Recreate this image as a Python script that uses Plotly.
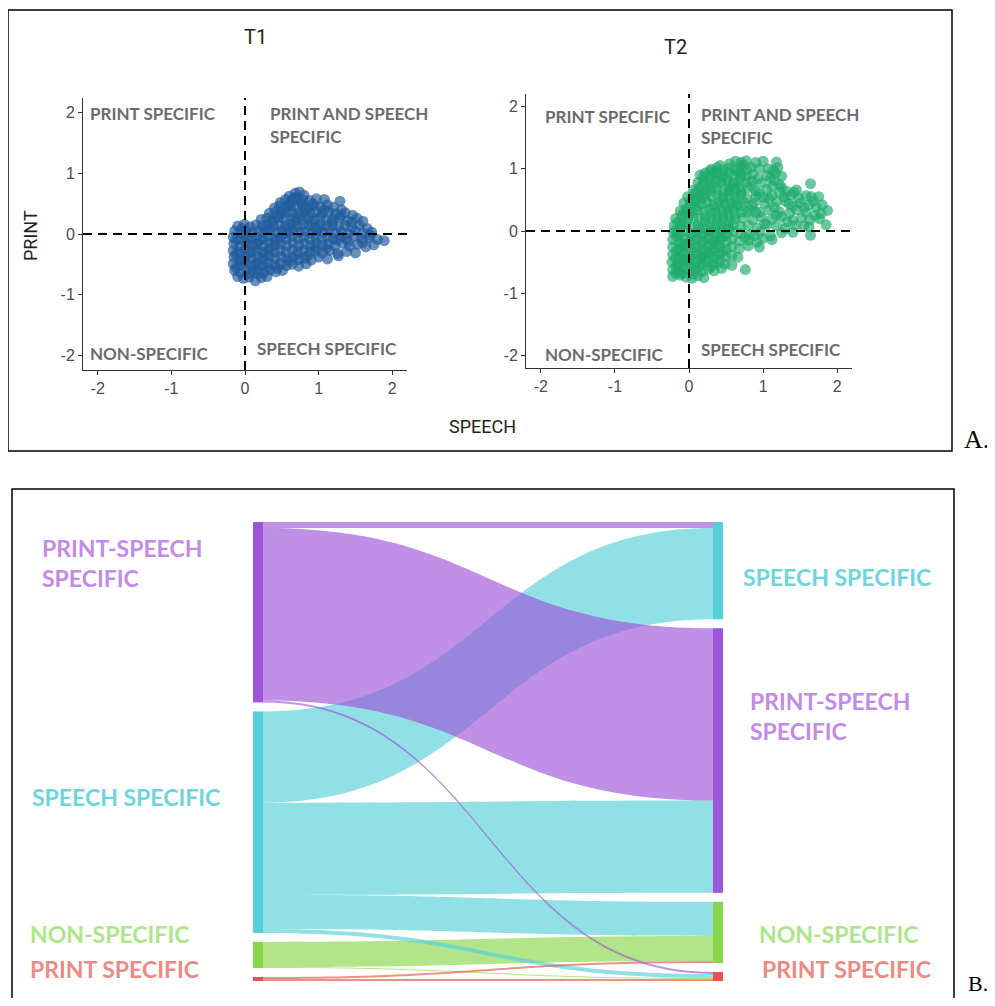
import plotly.graph_objects as go

# ---------------- data ----------------
tick_vals = [-2, -1, 0, 1, 2]
tick_text = ["-2", "-1", "0", "1", "2"]

t1_points = [
    (0.60, 0.62), (0.68, 0.67), (0.74, 0.69), (0.80, 0.64),
    (0.48, 0.52), (0.55, 0.57), (0.63, 0.55), (0.71, 0.58), (0.79, 0.56), (0.88, 0.55), (0.97, 0.58), (1.08, 0.57), (1.29, 0.54),
    (0.40, 0.43), (0.47, 0.46), (0.55, 0.44), (0.62, 0.47), (0.70, 0.45), (0.78, 0.46), (0.86, 0.43), (0.94, 0.47), (1.02, 0.45), (1.12, 0.48), (1.20, 0.44), (1.31, 0.40),
    (0.33, 0.34), (0.41, 0.36), (0.49, 0.33), (0.57, 0.37), (0.64, 0.35), (0.72, 0.34), (0.81, 0.37), (0.89, 0.33), (0.97, 0.36), (1.05, 0.34), (1.14, 0.37), (1.23, 0.33), (1.36, 0.35), (1.46, 0.31),
    (0.22, 0.24), (0.30, 0.26), (0.38, 0.23), (0.46, 0.27), (0.54, 0.25), (0.62, 0.24), (0.70, 0.27), (0.78, 0.23), (0.86, 0.26), (0.94, 0.24), (1.02, 0.27), (1.10, 0.23), (1.19, 0.25), (1.28, 0.27), (1.39, 0.22), (1.52, 0.26), (1.60, 0.21),
    (-0.10, 0.13), (-0.01, 0.16), (0.07, 0.12), (0.15, 0.15), (0.23, 0.13), (0.31, 0.16), (0.39, 0.12), (0.47, 0.15), (0.55, 0.13), (0.63, 0.16), (0.71, 0.12), (0.79, 0.15), (0.87, 0.14), (0.95, 0.11), (1.03, 0.16), (1.11, 0.13), (1.19, 0.15), (1.27, 0.12), (1.36, 0.14), (1.45, 0.11), (1.55, 0.15), (1.66, 0.09),
    (-0.14, 0.05), (-0.06, 0.02), (0.02, 0.06), (0.10, 0.03), (0.18, 0.05), (0.26, 0.02), (0.34, 0.06), (0.42, 0.03), (0.50, 0.05), (0.58, 0.02), (0.66, 0.06), (0.74, 0.03), (0.82, 0.05), (0.90, 0.02), (0.98, 0.06), (1.06, 0.03), (1.14, 0.05), (1.22, 0.02), (1.31, 0.04), (1.40, 0.01), (1.50, 0.05), (1.60, 0.02), (1.72, 0.03),
    (-0.16, -0.05), (-0.08, -0.08), (0.00, -0.04), (0.08, -0.07), (0.16, -0.05), (0.24, -0.08), (0.32, -0.04), (0.40, -0.07), (0.48, -0.05), (0.56, -0.08), (0.64, -0.04), (0.72, -0.07), (0.80, -0.05), (0.88, -0.08), (0.96, -0.04), (1.04, -0.07), (1.12, -0.05), (1.20, -0.08), (1.29, -0.05), (1.38, -0.07), (1.48, -0.04), (1.58, -0.08), (1.69, -0.06), (1.80, -0.09), (1.89, -0.11),
    (-0.15, -0.16), (-0.07, -0.19), (0.01, -0.15), (0.09, -0.18), (0.17, -0.16), (0.25, -0.19), (0.33, -0.15), (0.41, -0.18), (0.49, -0.16), (0.57, -0.19), (0.65, -0.15), (0.73, -0.18), (0.81, -0.16), (0.89, -0.19), (0.97, -0.15), (1.05, -0.18), (1.13, -0.16), (1.22, -0.19), (1.32, -0.15), (1.42, -0.20), (1.53, -0.17), (1.64, -0.21), (1.75, -0.18),
    (-0.16, -0.27), (-0.08, -0.30), (0.00, -0.26), (0.08, -0.29), (0.16, -0.27), (0.24, -0.30), (0.32, -0.26), (0.40, -0.29), (0.48, -0.27), (0.56, -0.30), (0.64, -0.26), (0.72, -0.29), (0.80, -0.27), (0.88, -0.30), (0.96, -0.28), (1.05, -0.31), (1.15, -0.27), (1.26, -0.32), (1.38, -0.29), (1.50, -0.31),
    (-0.15, -0.38), (-0.07, -0.41), (0.01, -0.37), (0.09, -0.40), (0.17, -0.38), (0.25, -0.41), (0.33, -0.37), (0.41, -0.40), (0.49, -0.38), (0.57, -0.41), (0.65, -0.39), (0.73, -0.42), (0.81, -0.40), (0.90, -0.43), (1.00, -0.38), (1.12, -0.41), (1.27, -0.36),
    (-0.16, -0.49), (-0.08, -0.52), (0.00, -0.48), (0.08, -0.51), (0.16, -0.49), (0.24, -0.52), (0.32, -0.48), (0.40, -0.51), (0.48, -0.49), (0.56, -0.52), (0.64, -0.50), (0.73, -0.53), (0.83, -0.49),
    (-0.14, -0.60), (-0.06, -0.63), (0.02, -0.59), (0.10, -0.62), (0.18, -0.60), (0.26, -0.63), (0.34, -0.59), (0.42, -0.62), (0.51, -0.60),
    (-0.10, -0.70), (-0.02, -0.73), (0.06, -0.71), (0.14, -0.77), (0.22, -0.72), (0.30, -0.70),
    # interior points between the rows
    (0.05, -0.65), (0.12, -0.55), (0.20, -0.44), (0.28, -0.33), (0.36, -0.22), (0.44, -0.11), (0.52, 0.00), (0.60, 0.10),
    (0.68, 0.20), (0.76, 0.30), (0.84, 0.40), (0.92, 0.50), (-0.12, -0.55), (-0.04, -0.44), (0.04, -0.33), (0.12, -0.22),
    (0.20, -0.11), (0.28, 0.09), (0.36, 0.20), (0.44, 0.30), (0.52, 0.40), (0.60, 0.50), (0.68, 0.60), (0.76, 0.52),
    (0.18, -0.66), (0.30, -0.55), (0.44, -0.56), (0.60, -0.45), (0.70, -0.34), (0.85, -0.36), (0.95, -0.22), (1.10, -0.24),
    (1.25, -0.10), (1.40, -0.12), (1.60, -0.14), (1.70, -0.02), (1.00, 0.10), (1.18, 0.20), (1.30, 0.30), (1.08, 0.40),
    (0.90, 0.20), (1.45, 0.20), (-0.12, -0.10), (-0.04, 0.09), (-0.12, -0.33), (0.04, -0.10),
]

t2_points = [
    (0.55, 1.08), (0.63, 1.12), (0.70, 1.10), (0.77, 1.13), (1.00, 1.12), (1.18, 1.11),
    (0.30, 0.99), (0.38, 1.02), (0.46, 0.98), (0.54, 1.01), (0.62, 0.99), (0.70, 1.03), (0.78, 0.98), (1.07, 1.00), (1.14, 0.97), (1.20, 1.02),
    (0.15, 0.90), (0.22, 0.93), (0.30, 0.89), (0.38, 0.92), (0.46, 0.90), (0.54, 0.93), (0.62, 0.89), (0.70, 0.92), (0.78, 0.88), (0.86, 0.91), (1.05, 0.89), (1.17, 0.93),
    (0.12, 0.78), (0.20, 0.81), (0.28, 0.77), (0.36, 0.80), (0.44, 0.78), (0.52, 0.81), (0.60, 0.77), (0.68, 0.80), (0.76, 0.78), (0.85, 0.80), (0.98, 0.77), (1.15, 0.81), (1.22, 0.75), (1.64, 0.76),
    (0.06, 0.66), (0.14, 0.69), (0.22, 0.65), (0.30, 0.68), (0.38, 0.66), (0.46, 0.69), (0.54, 0.65), (0.62, 0.68), (0.70, 0.66), (0.79, 0.69), (0.90, 0.64), (1.05, 0.67), (1.25, 0.70), (1.32, 0.64), (1.42, 0.62),
    (-0.02, 0.55), (0.06, 0.58), (0.14, 0.54), (0.22, 0.57), (0.30, 0.55), (0.38, 0.58), (0.46, 0.54), (0.54, 0.57), (0.62, 0.55), (0.70, 0.58), (0.78, 0.52), (0.90, 0.56), (1.00, 0.54), (1.12, 0.57), (1.28, 0.55), (1.38, 0.58), (1.48, 0.53), (1.58, 0.57), (1.65, 0.55),
    (-0.07, 0.45), (0.01, 0.42), (0.09, 0.46), (0.17, 0.43), (0.25, 0.45), (0.33, 0.42), (0.41, 0.46), (0.49, 0.43), (0.57, 0.45), (0.65, 0.42), (0.74, 0.46), (0.85, 0.41), (1.02, 0.44), (1.18, 0.47), (1.35, 0.43), (1.50, 0.45), (1.62, 0.42), (1.72, 0.38),
    (-0.12, 0.32), (-0.04, 0.35), (0.04, 0.31), (0.12, 0.34), (0.20, 0.32), (0.28, 0.35), (0.36, 0.31), (0.44, 0.34), (0.52, 0.32), (0.60, 0.35), (0.70, 0.30), (0.82, 0.33), (0.95, 0.30), (1.08, 0.34), (1.22, 0.31), (1.36, 0.29), (1.45, 0.34), (1.58, 0.30), (1.78, 0.28), (1.87, 0.33),
    (-0.18, 0.20), (-0.10, 0.23), (-0.02, 0.19), (0.06, 0.22), (0.14, 0.20), (0.22, 0.23), (0.30, 0.19), (0.38, 0.22), (0.46, 0.20), (0.54, 0.23), (0.62, 0.19), (0.72, 0.21), (0.86, 0.18), (0.98, 0.22), (1.12, 0.19), (1.25, 0.23), (1.40, 0.17), (1.52, 0.21), (1.63, 0.18), (1.76, 0.20),
    (-0.20, 0.09), (-0.12, 0.06), (-0.04, 0.10), (0.04, 0.07), (0.12, 0.09), (0.20, 0.06), (0.28, 0.10), (0.36, 0.07), (0.44, 0.09), (0.52, 0.06), (0.60, 0.10), (0.70, 0.07), (0.80, 0.09), (0.92, 0.05), (1.05, 0.10), (1.18, 0.08), (1.30, 0.04), (1.44, 0.09), (1.62, 0.07), (1.85, 0.10),
    (-0.21, -0.02), (-0.13, -0.05), (-0.05, -0.01), (0.03, -0.04), (0.11, -0.02), (0.19, -0.05), (0.27, -0.01), (0.35, -0.04), (0.43, -0.02), (0.51, -0.05), (0.60, -0.01), (0.70, -0.04), (0.82, -0.06), (0.96, -0.02), (1.10, -0.08), (1.25, -0.03), (1.64, -0.07),
    (-0.22, -0.14), (-0.14, -0.17), (-0.06, -0.13), (0.02, -0.16), (0.10, -0.14), (0.18, -0.17), (0.26, -0.13), (0.34, -0.16), (0.42, -0.14), (0.50, -0.17), (0.58, -0.13), (0.68, -0.16), (0.80, -0.15), (0.92, -0.18), (1.12, -0.14),
    (-0.22, -0.26), (-0.14, -0.29), (-0.06, -0.25), (0.02, -0.28), (0.10, -0.26), (0.18, -0.29), (0.26, -0.25), (0.34, -0.28), (0.42, -0.26), (0.50, -0.29), (0.58, -0.25), (0.68, -0.28), (0.80, -0.24), (0.95, -0.26),
    (-0.22, -0.38), (-0.14, -0.41), (-0.06, -0.37), (0.02, -0.40), (0.10, -0.38), (0.18, -0.41), (0.26, -0.37), (0.34, -0.40), (0.42, -0.38), (0.50, -0.41), (0.58, -0.39), (0.66, -0.42),
    (-0.23, -0.50), (-0.15, -0.53), (-0.07, -0.49), (0.01, -0.52), (0.09, -0.50), (0.17, -0.53), (0.25, -0.49), (0.33, -0.52), (0.41, -0.50), (0.49, -0.53), (0.58, -0.55),
    (-0.22, -0.62), (-0.14, -0.65), (-0.06, -0.61), (0.02, -0.64), (0.10, -0.62), (0.18, -0.65), (0.26, -0.61), (0.34, -0.64), (0.44, -0.60), (0.76, -0.62),
    (-0.22, -0.73), (-0.12, -0.71), (-0.04, -0.74), (0.04, -0.76), (0.12, -0.72), (0.20, -0.75),
    # dense left band
    (0.02, 0.48), (0.10, 0.62), (0.18, 0.74), (0.26, 0.85), (0.34, 0.95), (0.42, 1.05), (0.50, 0.86), (0.58, 0.72),
    (-0.15, 0.14), (-0.08, 0.28), (0.00, 0.26), (0.08, 0.38), (0.16, 0.50), (0.24, 0.61), (0.32, 0.73), (0.40, 0.84),
    (-0.17, -0.08), (-0.09, -0.20), (-0.17, -0.32), (-0.09, -0.44), (-0.17, -0.56), (-0.09, -0.68), (0.06, -0.57), (0.14, -0.45),
    (0.22, -0.33), (0.30, -0.21), (0.38, -0.09), (0.46, 0.03), (0.54, 0.15), (0.30, -0.57), (0.38, -0.45), (0.46, -0.33),
    (-0.18, -0.68), (-0.10, -0.58), (-0.02, -0.46), (0.06, -0.34), (0.14, -0.22), (0.22, -0.10), (0.30, 0.02), (0.38, 0.14),
    (0.46, 0.26), (0.54, 0.38), (0.62, 0.50), (0.70, 0.62), (-0.18, -0.44), (-0.10, -0.32), (-0.02, -0.20), (0.06, -0.08),
    (0.14, 0.04), (0.22, 0.16), (0.30, 0.28), (0.38, 0.40), (0.46, 0.52), (0.54, 0.64), (0.62, 0.76), (0.70, 0.88),
    (0.06, -0.69), (0.14, -0.57), (0.22, -0.45), (0.30, -0.33), (0.38, -0.21), (0.46, -0.09), (0.54, 0.03), (0.62, 0.27),
    (0.70, 0.40), (0.78, 0.30), (-0.18, 0.00), (-0.10, 0.12), (-0.02, 0.30), (0.06, 0.50), (0.12, 0.60), (0.20, 0.88), (0.28, 0.96),
    # right lobe
    (0.88, 0.45), (0.95, 0.60), (1.08, 0.52), (1.15, 0.38), (1.22, 0.62), (1.30, 0.48), (1.40, 0.40), (1.45, 0.66),
    (1.55, 0.38), (1.68, 0.48), (1.75, 0.55), (1.80, 0.42), (1.70, 0.25), (1.55, 0.08), (1.40, -0.02), (1.32, 0.15),
    (1.18, 0.25), (1.02, 0.12), (0.90, 0.30), (0.88, -0.08), (1.00, -0.12), (0.75, -0.10), (0.85, 0.72), (0.93, 0.84),
    (0.95, 1.00), (1.10, 0.85), (1.25, 0.88), (1.12, 0.72), (0.66, 0.95), (0.74, 1.06), (0.84, 1.02), (0.90, 1.10),
]

# Sankey (T1 profile -> T2 profile); links listed in drawing order
left_nodes = ["PRINT-SPEECH SPECIFIC", "SPEECH SPECIFIC", "NON-SPECIFIC", "PRINT SPECIFIC"]
right_nodes = ["SPEECH SPECIFIC", "PRINT-SPEECH SPECIFIC", "NON-SPECIFIC", "PRINT SPECIFIC"]
flow_source = [2, 2, 1, 1, 1, 1, 3, 3, 0, 0, 0]
flow_target = [6, 7, 4, 5, 6, 7, 6, 7, 4, 5, 7]
flow_value = [25, 1, 91, 92, 34, 4, 2, 2, 6, 172, 2]

# ---------------- styling ----------------
# page has an 8px body margin; figure placed at (8, 8)
OFF = 8
W, H = 995 - OFF, 990
def fx(px):
    return (px - OFF) / W
def fy(py):
    return 1 - (py - OFF) / H

cat_node = {"PRINT-SPEECH SPECIFIC": "#9c55d9", "SPEECH SPECIFIC": "#56cfd8",
            "NON-SPECIFIC": "#89d64a", "PRINT SPECIFIC": "#e0564c"}
cat_rgb = {"PRINT-SPEECH SPECIFIC": (157, 85, 217), "SPEECH SPECIFIC": (86, 207, 216),
           "NON-SPECIFIC": (137, 214, 74), "PRINT SPECIFIC": (224, 86, 76)}
cat_label = {"PRINT-SPEECH SPECIFIC": "#c48ae8", "SPEECH SPECIFIC": "#6ed5de",
             "NON-SPECIFIC": "#aee58c", "PRINT SPECIFIC": "#ec8a83"}

fig = go.Figure()

# scatter panels
fig.add_trace(go.Scatter(
    x=[p[0] for p in t1_points], y=[p[1] for p in t1_points], mode="markers",
    marker=dict(size=11, color="#215c9c", opacity=0.68, line=dict(width=0)),
    xaxis="x", yaxis="y", hoverinfo="skip", showlegend=False))
fig.add_trace(go.Scatter(
    x=[p[0] for p in t2_points], y=[p[1] for p in t2_points], mode="markers",
    marker=dict(size=11, color="#1fab6c", opacity=0.66, line=dict(width=0)),
    xaxis="x2", yaxis="y2", hoverinfo="skip", showlegend=False))

# sankey
all_nodes = left_nodes + right_nodes
dom_x0, dom_x1 = 253, 723
dom_y0, dom_y1 = 522, 981
node_thick = 10
pad = 9
Hs = dom_y1 - dom_y0
total = sum(flow_value)
ky = (Hs - 3 * pad) / total

def col_centers(idx):
    vals = []
    for n in idx:
        out_v = sum(v for s, v in zip(flow_source, flow_value) if s == n)
        in_v = sum(v for t, v in zip(flow_target, flow_value) if t == n)
        vals.append(max(out_v, in_v))
    cs, cum = [], 0
    for i, v in enumerate(vals):
        top = cum * ky + i * pad
        cs.append((top + v * ky / 2) / Hs)
        cum += v
    return cs

node_y = col_centers([0, 1, 2, 3]) + col_centers([4, 5, 6, 7])
xl = (node_thick / 2) / (dom_x1 - dom_x0)
node_x = [xl] * 4 + [1 - xl] * 4

link_colors = []
for s in flow_source:
    r, g, b = cat_rgb[all_nodes[s]]
    link_colors.append(f"rgba({r},{g},{b},0.65)")

fig.add_trace(go.Sankey(
    domain=dict(x=[fx(dom_x0), fx(dom_x1)], y=[fy(dom_y1), fy(dom_y0)]),
    arrangement="fixed",
    node=dict(label=[""] * 8, x=node_x, y=node_y, pad=pad, thickness=node_thick,
              color=[cat_node[n] for n in all_nodes], line=dict(width=0)),
    link=dict(source=flow_source, target=flow_target, value=flow_value,
              color=link_colors, line=dict(width=0)),
    hoverinfo="skip",
))

axis_common = dict(range=[-2.2, 2.2], showgrid=False, zeroline=False, showline=True,
                   linecolor="#333333", linewidth=1, ticks="outside", ticklen=4,
                   tickcolor="#333333", tickvals=tick_vals, ticktext=tick_text,
                   tickfont=dict(family="Liberation Sans", size=16, color="#4d4d4d"))

fig.update_layout(
    width=W, height=H, margin=dict(l=0, r=0, t=0, b=0),
    paper_bgcolor="white", plot_bgcolor="white", showlegend=False,
    xaxis=dict(domain=[fx(83), fx(407)], anchor="y", **axis_common),
    yaxis=dict(domain=[fy(370), fy(98)], anchor="x", **{**axis_common, "range": [-2.24, 2.24]}),
    xaxis2=dict(domain=[fx(526), fx(852)], anchor="y2", **axis_common),
    yaxis2=dict(domain=[fy(368), fy(94)], anchor="x2", **axis_common),
)

shapes = []
for xr, yr in (("x", "y"), ("x2", "y2")):
    shapes.append(dict(type="line", xref=xr, yref=yr + " domain", x0=0, x1=0, y0=0, y1=1,
                       line=dict(color="black", width=2, dash="9px,6px")))
    shapes.append(dict(type="line", xref=xr + " domain", yref=yr, x0=0, x1=1, y0=0, y1=0,
                       line=dict(color="black", width=2, dash="9px,6px")))
shapes.append(dict(type="rect", xref="paper", yref="paper", x0=fx(8), x1=fx(952), y0=fy(451), y1=fy(10),
                   line=dict(color="black", width=1.5), fillcolor="rgba(0,0,0,0)", layer="below"))
shapes.append(dict(type="rect", xref="paper", yref="paper", x0=fx(12), x1=fx(954), y0=fy(1012), y1=fy(489),
                   line=dict(color="black", width=1.5), fillcolor="rgba(0,0,0,0)", layer="below"))
fig.update_layout(shapes=shapes)

ann = []
qfont = dict(family="Lato", size=17, color="#6b6b6b")
def qlab(text, x, y, xr, yr):
    ann.append(dict(text="<b>" + text + "</b>", x=x, y=y, xref=xr, yref=yr, xanchor="left",
                    yanchor="middle", showarrow=False, font=qfont))
# T1 quadrant labels
qlab("PRINT SPECIFIC", -2.13, 1.98, "x", "y")
qlab("PRINT AND SPEECH", 0.31, 1.98, "x", "y")
qlab("SPECIFIC", 0.31, 1.60, "x", "y")
qlab("NON-SPECIFIC", -2.13, -1.96, "x", "y")
qlab("SPEECH SPECIFIC", 0.14, -1.89, "x", "y")
# T2 quadrant labels
qlab("PRINT SPECIFIC", -1.97, 1.84, "x2", "y2")
qlab("PRINT AND SPEECH", 0.135, 1.87, "x2", "y2")
qlab("SPECIFIC", 0.135, 1.50, "x2", "y2")
qlab("NON-SPECIFIC", -1.97, -1.98, "x2", "y2")
qlab("SPEECH SPECIFIC", 0.135, -1.90, "x2", "y2")

tfont = dict(family="Roboto", size=20, color="#222222")
ann.append(dict(text="T1", x=fx(255), y=fy(37), xref="paper", yref="paper", showarrow=False,
                xanchor="center", yanchor="middle", font=tfont))
ann.append(dict(text="T2", x=fx(675), y=fy(47), xref="paper", yref="paper", showarrow=False,
                xanchor="center", yanchor="middle", font=tfont))
ann.append(dict(text="SPEECH", x=fx(482), y=fy(426), xref="paper", yref="paper", showarrow=False,
                xanchor="center", yanchor="middle", font=dict(family="Roboto", size=18, color="#222222")))
ann.append(dict(text="PRINT", x=fx(30), y=fy(236), xref="paper", yref="paper", showarrow=False,
                xanchor="center", yanchor="middle", textangle=-90,
                font=dict(family="Roboto", size=18, color="#222222")))
ann.append(dict(text="A.", x=fx(962), y=fy(440), xref="paper", yref="paper", showarrow=False,
                xanchor="left", yanchor="middle", font=dict(family="Liberation Serif", size=26, color="black")))
ann.append(dict(text="B.", x=fx(966), y=fy(983), xref="paper", yref="paper", showarrow=False,
                xanchor="left", yanchor="middle", font=dict(family="Liberation Serif", size=22, color="black")))

def slab(text, cat, px, py):
    ann.append(dict(text="<b>" + text + "</b>", x=fx(px), y=fy(py), xref="paper", yref="paper",
                    showarrow=False, xanchor="left", yanchor="middle",
                    font=dict(family="Lato", size=23, color=cat_label[cat])))
slab("PRINT-SPEECH", "PRINT-SPEECH SPECIFIC", 40, 548)
slab("SPECIFIC", "PRINT-SPEECH SPECIFIC", 40, 578)
slab("SPEECH SPECIFIC", "SPEECH SPECIFIC", 30, 797)
slab("NON-SPECIFIC", "NON-SPECIFIC", 28, 934)
slab("PRINT SPECIFIC", "PRINT SPECIFIC", 28, 969)
slab("SPEECH SPECIFIC", "SPEECH SPECIFIC", 741, 577)
slab("PRINT-SPEECH", "PRINT-SPEECH SPECIFIC", 748, 701)
slab("SPECIFIC", "PRINT-SPEECH SPECIFIC", 748, 731)
slab("NON-SPECIFIC", "NON-SPECIFIC", 757, 934)
slab("PRINT SPECIFIC", "PRINT SPECIFIC", 760, 969)

fig.update_layout(annotations=ann)
fig.write_html("out.html")
